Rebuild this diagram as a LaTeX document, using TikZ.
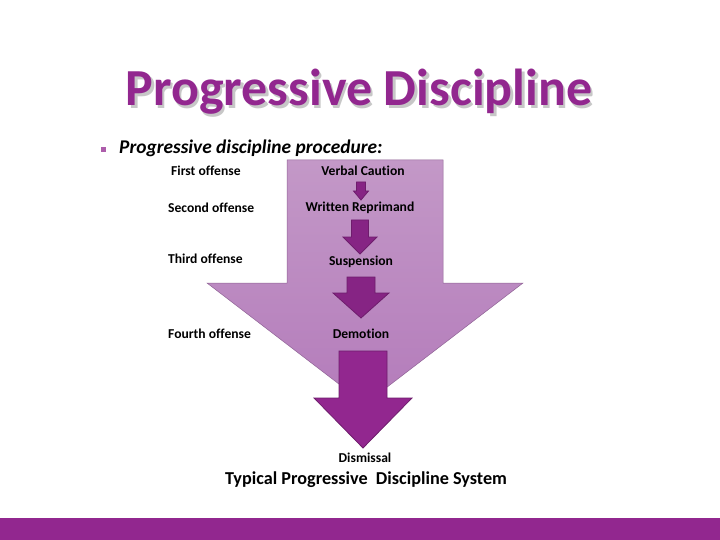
\documentclass[tikz,border=0pt]{standalone}
\usepackage{fontspec}
\setmainfont{Carlito}[Ligatures=NoCommon]
\usetikzlibrary{positioning}

\definecolor{plum}{HTML}{92278F}
\definecolor{lilac}{HTML}{C398C7}
\definecolor{lilacdark}{HTML}{B47CBB}
\definecolor{plumline}{HTML}{6E1D6C}

\tikzset{
  stepcaption/.style={font=\fontsize{13.6}{16}\selectfont\bfseries, inner sep=1pt},
  offense/.style={stepcaption, anchor=west},
  blockarrow/.style={fill=plum!92!black, draw=plumline, line width=0.8pt},
  headline/.style={font=\fontsize{52}{58}\selectfont\bfseries, inner sep=0pt},
}

% down arrow: centre x, top y, shaft half width, head y, head half width, tip y
\newcommand{\downblock}[7][]{%
  \path[#1] (#2-#4,#3) -- (#2+#4,#3) -- (#2+#4,#5) -- (#2+#6,#5)
    -- (#2,#7) -- (#2-#6,#5) -- (#2-#4,#5) -- cycle;}
% text with a soft grey copy behind it
\newcommand{\shadowtext}[1]{%
  \makebox[0pt][l]{\hspace{2.5pt}\raisebox{-2.5pt}{\color{black!22}#1}}#1}

\begin{document}
\begin{tikzpicture}[x=1pt, y=-1pt]
  \useasboundingbox (0,0) rectangle (720,540);
  \fill[white] (0,0) rectangle (720,540);

  % heading and bullet line
  \node[headline, text=plum] (title) at (359,93) {\shadowtext{Progressive Discipline}};
  \fill[plum!75!white] (101,147) rectangle (106,152);
  \node[anchor=west, font=\fontsize{19.4}{22}\selectfont\bfseries\itshape, inner sep=0pt]
    (intro) at (119,148) {Progressive discipline procedure:};

  % large background arrow
  \downblock[top color=lilac, bottom color=lilacdark, draw=lilacdark!80!black, line width=0.5pt]
    {365}{160}{78}{283}{158}{404}

  % steps
  \downblock[blockarrow]{361}{182}{4.5}{191}{7.5}{200}
  \downblock[blockarrow]{360}{220}{8.5}{237}{17}{254}
  \downblock[blockarrow]{361}{277}{14}{293}{28}{318}
  \downblock[blockarrow, fill=plum]{363}{351}{24}{398}{49}{448}

  \node[stepcaption] (caution) at (363,171) {Verbal Caution};
  \node[stepcaption] (reprimand) at (360,208) {Written Reprimand};
  \node[stepcaption] (suspension) at (361,262) {Suspension};
  \node[stepcaption] (demotion) at (361,334) {Demotion};
  \node[stepcaption] (dismissal) at (365,458) {Dismissal};

  \node[offense] (first) at (170,171) {First offense};
  \node[offense] (second) at (167,208) {Second offense};
  \node[offense] (third) at (167,259) {Third offense};
  \node[offense] (fourth) at (167,334) {Fourth offense};

  \node[font=\fontsize{18.2}{21}\selectfont\bfseries] (system) at (366,480)
    {Typical Progressive\ \ Discipline System};

  % footer band
  \fill[plum] (0,518) rectangle (720,540);
\end{tikzpicture}
\end{document}
